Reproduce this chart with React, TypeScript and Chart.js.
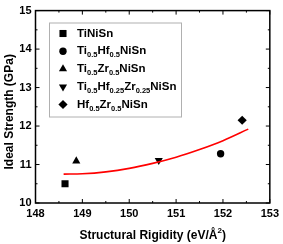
import React, { useEffect, useRef } from "react";
import { Chart, registerables } from "chart.js";
Chart.register(...registerables);

const seriesLabels = [
  "TiNiSn",
  "Ti_{0.5}Hf_{0.5}NiSn",
  "Ti_{0.5}Zr_{0.5}NiSn",
  "Ti_{0.5}Hf_{0.25}Zr_{0.25}NiSn",
  "Hf_{0.5}Zr_{0.5}NiSn",
];
const rigidity = [148.63, 151.95, 148.87, 150.63, 152.41];
const strength = [10.5, 11.28, 11.09, 11.11, 12.15];
const fitX = [148.6, 149.0, 149.5, 150.0, 150.5, 151.0, 151.5, 152.0, 152.54];
const fitY = [10.75, 10.76, 10.81, 10.9, 11.03, 11.19, 11.39, 11.62, 11.92];
const xTicks = [148, 149, 150, 151, 152, 153];
const yTicks = [10, 11, 12, 13, 14, 15];
const xTitle = ["Structural Rigidity (eV/Å", "2", ")"];
const yTitle = "Ideal Strength (GPa)";

const styles = ["rect", "circle", "triangle", "triangle", "rectRot"];
const rotations = [0, 0, 0, 180, 0];
const radii = [5, 3.7, 4.7, 4.7, 4.6];
const FONT = "'Liberation Sans', Arial, sans-serif";

function drawMarker(ctx: CanvasRenderingContext2D, style: string, x: number, y: number, r: number, rotDeg: number) {
  const rad = (rotDeg * Math.PI) / 180;
  ctx.beginPath();
  if (style === "circle") {
    ctx.arc(x, y, r, 0, Math.PI * 2);
  } else if (style === "rect") {
    const s = Math.SQRT1_2 * r;
    ctx.rect(x - s, y - s, 2 * s, 2 * s);
  } else if (style === "triangle") {
    let a = rad;
    ctx.moveTo(x + Math.sin(a) * r, y - Math.cos(a) * r);
    a += (2 * Math.PI) / 3;
    ctx.lineTo(x + Math.sin(a) * r, y - Math.cos(a) * r);
    a += (2 * Math.PI) / 3;
    ctx.lineTo(x + Math.sin(a) * r, y - Math.cos(a) * r);
    ctx.closePath();
  } else if (style === "rectRot") {
    ctx.moveTo(x, y - r);
    ctx.lineTo(x + r, y);
    ctx.lineTo(x, y + r);
    ctx.lineTo(x - r, y);
    ctx.closePath();
  }
  ctx.fill();
}

function drawRich(ctx: CanvasRenderingContext2D, label: string, x: number, y: number) {
  const parts: { t: string; sub: boolean }[] = [];
  const re = /_\{([^}]*)\}/g;
  let last = 0;
  let m: RegExpExecArray | null;
  while ((m = re.exec(label))) {
    if (m.index > last) parts.push({ t: label.slice(last, m.index), sub: false });
    parts.push({ t: m[1], sub: true });
    last = m.index + m[0].length;
  }
  if (last < label.length) parts.push({ t: label.slice(last), sub: false });
  ctx.textBaseline = "middle";
  ctx.textAlign = "left";
  let cx = x;
  for (const p of parts) {
    ctx.font = p.sub ? `bold 7.5px ${FONT}` : `bold 11.5px ${FONT}`;
    ctx.fillText(p.t, cx, p.sub ? y + 4 : y);
    cx += ctx.measureText(p.t).width;
  }
}

const framePlugin = {
  id: "frame",
  afterDraw(chart: any) {
    const ctx: CanvasRenderingContext2D = chart.ctx;
    const { left, right, top, bottom } = chart.chartArea;
    const xs = chart.scales.x;
    const ys = chart.scales.y;
    ctx.save();
    ctx.strokeStyle = "#000";
    ctx.lineWidth = 1.5;
    ctx.strokeRect(left, top, right - left, bottom - top);
    ctx.lineWidth = 1;
    ctx.beginPath();
    for (let i = 0; i < xTicks.length; i++) {
      const px = xs.getPixelForValue(xTicks[i]);
      ctx.moveTo(px, bottom); ctx.lineTo(px, bottom - 4);
      ctx.moveTo(px, top); ctx.lineTo(px, top + 4);
      if (i < xTicks.length - 1) {
        const mx = xs.getPixelForValue((xTicks[i] + xTicks[i + 1]) / 2);
        ctx.moveTo(mx, bottom); ctx.lineTo(mx, bottom - 2);
        ctx.moveTo(mx, top); ctx.lineTo(mx, top + 2);
      }
    }
    for (let i = 0; i < yTicks.length; i++) {
      const py = ys.getPixelForValue(yTicks[i]);
      ctx.moveTo(left, py); ctx.lineTo(left + 4, py);
      ctx.moveTo(right, py); ctx.lineTo(right - 4, py);
      if (i < yTicks.length - 1) {
        const my = ys.getPixelForValue((yTicks[i] + yTicks[i + 1]) / 2);
        ctx.moveTo(left, my); ctx.lineTo(left + 2, my);
        ctx.moveTo(right, my); ctx.lineTo(right - 2, my);
      }
    }
    ctx.stroke();

    // legend
    const bx = 49, by = 22.5, bw = 132, bh = 94;
    ctx.fillStyle = "#fff";
    ctx.fillRect(bx, by, bw, bh);
    ctx.strokeStyle = "#b0b0b0";
    ctx.lineWidth = 1;
    ctx.strokeRect(bx + 0.5, by + 0.5, bw, bh);
    ctx.fillStyle = "#000";
    for (let i = 0; i < seriesLabels.length; i++) {
      const ry = 33.5 + i * 17.75;
      drawMarker(ctx, styles[i], 63, ry, radii[i], rotations[i]);
      drawRich(ctx, seriesLabels[i], 77, ry);
    }

    // axis titles
    ctx.font = `bold 12px ${FONT}`;
    const w0 = ctx.measureText(xTitle[0]).width;
    ctx.font = `bold 8px ${FONT}`;
    const w1 = ctx.measureText(xTitle[1]).width;
    ctx.font = `bold 12px ${FONT}`;
    const w2 = ctx.measureText(xTitle[2]).width;
    const total = w0 + w1 + w2;
    let tx = (left + right) / 2 - total / 2;
    const ty = 236;
    ctx.textAlign = "left";
    ctx.textBaseline = "middle";
    ctx.fillText(xTitle[0], tx, ty);
    tx += w0;
    ctx.font = `bold 8px ${FONT}`;
    ctx.fillText(xTitle[1], tx, ty - 5);
    tx += w1;
    ctx.font = `bold 12px ${FONT}`;
    ctx.fillText(xTitle[2], tx, ty);

    ctx.translate(10, (top + bottom) / 2 + 5);
    ctx.rotate(-Math.PI / 2);
    ctx.textAlign = "center";
    ctx.fillText(yTitle, 0, 0);
    ctx.restore();
  },
};

export default function App() {
  const ref = useRef<HTMLCanvasElement>(null);
  useEffect(() => {
    if (!ref.current) return;
    const chart = new Chart(ref.current, {
      type: "scatter",
      data: {
        datasets: [
          {
            type: "line",
            data: fitX.map((x, i) => ({ x, y: fitY[i] })),
            borderColor: "#ff0000",
            borderWidth: 1.6,
            pointRadius: 0,
            tension: 0.4,
            cubicInterpolationMode: "monotone",
            fill: false,
          } as any,
          ...seriesLabels.map((label, i) => ({
            label,
            data: [{ x: rigidity[i], y: strength[i] }],
            pointStyle: styles[i] as any,
            rotation: rotations[i],
            pointRadius: radii[i],
            backgroundColor: "#000",
            borderColor: "#000",
            borderWidth: 0,
          })),
        ],
      },
      options: {
        animation: false,
        responsive: false,
        layout: { padding: { top: 6, right: 11, left: 0, bottom: 0 } },
        plugins: { legend: { display: false }, tooltip: { enabled: false } },
        scales: {
          x: {
            type: "linear",
            min: 148,
            max: 153,
            afterBuildTicks: (s: any) => { s.ticks = xTicks.map((v) => ({ value: v })); },
            afterFit: (s: any) => { s.height = 41; },
            grid: { display: false, drawTicks: false },
            border: { display: false },
            ticks: { color: "#000", font: { family: FONT, size: 11, weight: "bold" }, padding: 4 },
          },
          y: {
            type: "linear",
            min: 10,
            max: 15,
            afterBuildTicks: (s: any) => { s.ticks = yTicks.map((v) => ({ value: v })); },
            afterFit: (s: any) => { s.width = 35.5; },
            grid: { display: false, drawTicks: false },
            border: { display: false },
            ticks: { color: "#000", font: { family: FONT, size: 11, weight: "bold" }, padding: 4 },
          },
        },
      },
      plugins: [framePlugin],
    });
    return () => chart.destroy();
  }, []);
  return (
    <div style={{ position: "absolute", left: 0, top: 0, width: 283, height: 244, background: "#fff" }}>
      <canvas ref={ref} width={283} height={244} style={{ width: 283, height: 244 }} />
    </div>
  );
}
